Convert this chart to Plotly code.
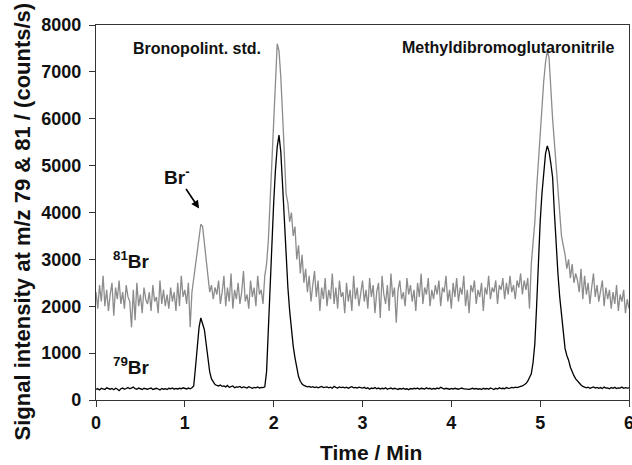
import plotly.graph_objects as go

# Sampling: 0.00 to 6.00 min every 0.02 min
t_start = 0.0
t_step = 0.02

br81 = [
    2300, 1950, 2450, 2100, 2650, 2000, 2350, 1900, 2250, 2500,
    1800, 2400, 2150, 2550, 2050, 2300, 1950, 2450, 2200, 2100,
    1550, 2350, 1700, 2500, 2000, 2250, 1850, 2400, 2150, 2050,
    2300, 1900, 2450, 2100, 2200, 1850, 2550, 2050, 2350, 2000,
    2250, 1950, 2400, 2100, 2300, 1900, 2500, 2000, 2650, 2200,
    2350, 2050, 2500, 1550, 2300, 2600, 2900, 3100, 3450, 3750,
    3700, 3350, 3000, 2650, 2300, 2450, 2150, 2400, 2250, 2550,
    2050, 2300, 2650, 2000, 2400, 2100, 2700, 1950, 2350, 2150,
    2500, 2050, 2300, 2750, 2100, 2250, 1950, 2550, 2200, 2400,
    2000, 2650, 2250, 2350, 2050, 2650, 2900, 3400, 4200, 5000,
    5900, 6800, 7600, 7450, 6900, 6100, 5200, 4400, 4200, 3800,
    4000, 3500, 3700, 3000, 3300, 2700, 3100, 2500, 2800, 2300,
    2650, 2100, 2450, 2750, 2200, 2550, 1900, 2400, 2150, 2600,
    2000, 2350, 2150, 2700, 2050, 2400, 1950, 2550, 2200, 2300,
    1850, 2500, 2100, 2350, 1900, 2650, 2150, 2400, 2000, 2250,
    2550, 2100, 2350, 1950, 2600, 2200, 2450, 1850, 2300, 2500,
    1750, 2650, 2250, 2050, 2450, 1900, 2700, 2200, 2400, 1650,
    2350, 2550, 2150, 2300, 2000, 2600, 2250, 2450, 2100, 2350,
    1900, 2500, 2200, 2700, 2050, 2400, 2250, 2600, 2000, 2350,
    2150, 2450, 2250, 2550, 2000, 2400, 2300, 2650, 2100, 2350,
    1950, 2500, 2200, 2600, 2100, 2400, 2250, 2650, 2000, 2350,
    1850, 2450, 2300, 2550, 2050, 2350, 2200, 2500, 1900, 2400,
    2250, 2650, 2150, 2400, 2300, 2550, 2050, 2450, 2350, 2600,
    2150, 2500, 2250, 2650, 2300, 2450, 2150, 2550, 2400, 2700,
    2250, 2550, 2350, 2600, 1950, 2900, 3300, 3800, 4500, 5100,
    5700, 6300, 6800, 7200, 7450, 7300, 6600, 6000, 5500, 5000,
    4400, 3900, 3500, 3300, 3100, 2800, 3000, 2600, 2900, 2500,
    2700, 2550, 2300, 2800, 2150, 2650, 2250, 2500, 2050, 2400,
    2700, 2200, 2450, 2100, 2300, 2550, 2000, 2400, 2150, 2350,
    1950, 2300, 2050, 2450, 1900, 2250, 2100, 2350, 1850, 2150,
    1950,
]

br79 = [
    230, 240, 215, 250, 235, 225, 260, 240, 230, 245,
    220, 250, 235, 200, 240, 255, 230, 245, 265, 240,
    250, 275, 240, 230, 255, 245, 225, 250, 240, 230,
    245, 255, 225, 240, 250, 235, 215, 245, 230, 240,
    225, 250, 240, 255, 230, 245, 235, 250, 240, 260,
    245, 235, 255, 240, 260, 300, 700, 1200, 1550, 1750,
    1600, 1500, 1200, 900, 600, 450, 380, 330, 310, 300,
    320, 290, 300, 280, 310, 270, 285, 300, 260, 280,
    275, 290, 260, 280, 270, 255, 285, 265, 250, 270,
    260, 280, 255, 270, 265, 280, 600, 1500, 2500, 3400,
    4200, 4900, 5400, 5650, 5300, 4600, 3800, 3000, 2400, 1900,
    1500, 1150, 900, 700, 500, 400, 340, 310, 290, 280,
    290, 270, 285, 265, 280, 260, 275, 290, 265, 270,
    280, 260, 275, 250, 290, 270, 255, 280, 265, 275,
    260, 275, 250, 270, 285, 260, 270, 255, 275, 265,
    255, 270, 245, 260, 230, 255, 245, 265, 240, 255,
    235, 250, 240, 260, 230, 245, 255, 235, 250, 240,
    225, 245, 235, 250, 230, 240, 220, 245, 235, 250,
    240, 255, 230, 250, 245, 235, 260, 240, 250, 230,
    245, 235, 255, 240, 270, 245, 235, 250, 240, 230,
    245, 235, 250, 240, 230, 245, 255, 235, 240, 230,
    225, 240, 250, 235, 245, 230, 240, 225, 250, 235,
    245, 230, 255, 240, 225, 250, 235, 260, 245, 250,
    240, 265, 250, 255, 270, 260, 275, 265, 285, 290,
    300, 320, 350, 400, 480, 560, 800, 1200, 2000, 3100,
    3800, 4400, 4900, 5250, 5420, 5300, 5050, 4750, 4000, 3300,
    2700, 2200, 1800, 1400, 1100, 950, 850, 700, 600, 520,
    450, 400, 350, 320, 290, 270, 260, 275, 250, 265,
    280, 255, 270, 250, 265, 245, 275, 255, 260, 240,
    265, 250, 270, 245, 260, 255, 275, 250, 265, 255,
    260,
]

time = [round(t_start + i * t_step, 2) for i in range(len(br81))]

x_ticks = [0, 1, 2, 3, 4, 5, 6]
y_ticks = [0, 1000, 2000, 3000, 4000, 5000, 6000, 7000, 8000]

x_title = "Time / Min"
y_title = "Signal intensity at m/z 79 &amp; 81 / (counts/s)"

FONT = "Liberation Sans, Arial, sans-serif"
INK = "#111111"

fig = go.Figure()
fig.add_trace(go.Scatter(x=time, y=br81, mode="lines", name="81Br",
                         line=dict(color="#8c8c8c", width=1.3)))
fig.add_trace(go.Scatter(x=time, y=br79, mode="lines", name="79Br",
                         line=dict(color="#000000", width=1.3)))

ann_font = dict(family=FONT, size=16, color=INK, weight="bold")
iso_font = dict(family=FONT, size=19, color=INK, weight="bold")

fig.add_annotation(x=1.16, y=4085, xref="x", yref="y",
                   text="Br<sup>-</sup>", showarrow=True,
                   ax=-22, ay=-33, arrowhead=2, arrowsize=1, arrowwidth=1.6,
                   arrowcolor="#000000", font=iso_font)
fig.add_annotation(x=1.14, y=7500, xref="x", yref="y",
                   text="Bronopolint. std.", showarrow=False, font=ann_font)
fig.add_annotation(x=4.64, y=7520, xref="x", yref="y",
                   text="Methyldibromoglutaronitrile", showarrow=False,
                   font=ann_font)
fig.add_annotation(x=0.40, y=2980, xref="x", yref="y",
                   text="<sup>81</sup>Br", showarrow=False, font=iso_font)
fig.add_annotation(x=0.40, y=720, xref="x", yref="y",
                   text="<sup>79</sup>Br", showarrow=False, font=iso_font)

# Axis titles placed as paper-anchored text
fig.add_annotation(x=0.516, y=-0.141, xref="paper", yref="paper",
                   xanchor="center", yanchor="middle",
                   text=x_title, showarrow=False,
                   font=dict(family=FONT, size=21, color=INK, weight="bold"))
fig.add_annotation(x=-0.137, y=0.476, xref="paper", yref="paper",
                   xanchor="center", yanchor="middle",
                   text=y_title, showarrow=False, textangle=-90,
                   font=dict(family=FONT, size=22, color=INK, weight="bold"))

axis_common = dict(
    showline=True, linecolor="#333333", linewidth=1.2, mirror=True,
    ticks="outside", ticklen=6, tickcolor="#333333", tickwidth=1.2,
    showgrid=False, zeroline=False, automargin=False,
    ticklabeloverflow="allow",
    tickfont=dict(family=FONT, size=18, color=INK, weight="bold"),
)

fig.update_layout(
    width=632, height=465,
    margin=dict(l=96, r=3, t=25, b=65),
    paper_bgcolor="white", plot_bgcolor="white",
    showlegend=False,
    xaxis=dict(range=[0, 6], tickvals=x_ticks, **axis_common),
    yaxis=dict(range=[0, 8000], tickvals=y_ticks, ticklabelstandoff=4, **axis_common),
)

# Remove the browser's default page margin so the 632x465 figure fills the window.
fig.write_html(
    "out.html",
    config={"displayModeBar": False},
    post_script="document.body.style.margin='0';document.body.style.overflow='hidden';",
)
